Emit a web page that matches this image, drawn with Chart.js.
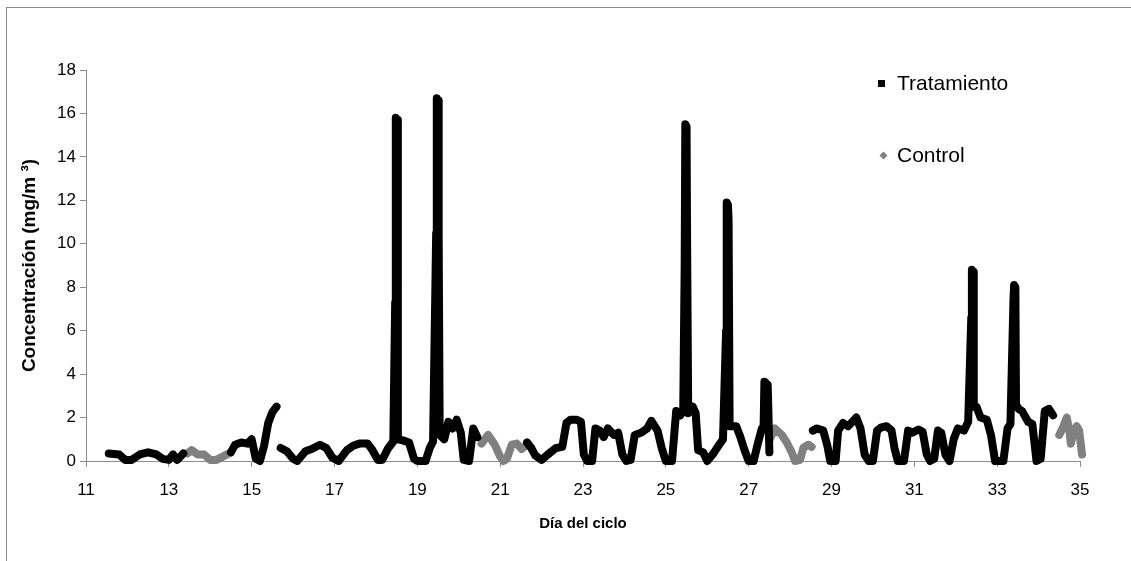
<!DOCTYPE html>
<html>
<head>
<meta charset="utf-8">
<script src="https://cdn.jsdelivr.net/npm/chart.js@4.4.1/dist/chart.umd.min.js"></script>
<style>
  html, body { margin: 0; padding: 0; background: #fff; overflow: hidden; }
  #marco { position: absolute; left: 6px; top: 7px; width: 1200px; height: 600px;
           border-top: 1px solid #8c8c8c; border-left: 1px solid #8c8c8c; }
  #c { position: absolute; left: 0; top: 0; }
</style>
</head>
<body>
<div id="marco"></div>
<canvas id="c" width="1131" height="561"></canvas>
<script>
// Concentración medida por día del ciclo (valores leídos del gráfico)
// null = corte de la serie (en esos tramos se registra el control)
const diasTratamiento = [
  11.55, 11.8, 11.95, 12.1, 12.3, 12.5, 12.7, 12.85, 13.0, 13.1, 13.2, 13.35, 13.9,
  14.5, 14.6, 14.75, 14.9, 15.0, 15.1, 15.2, 15.3, 15.4, 15.5, 15.6, 15.65,
  15.7, 15.85, 16.0, 16.1, 16.3, 16.45, 16.65, 16.8, 16.95, 17.1, 17.3, 17.45, 17.6, 17.8,
  17.9, 18.05, 18.15, 18.3, 18.42, 18.465, 18.48, 18.51, 18.53, 18.65, 18.8, 18.92, 19.0,
  19.2, 19.3, 19.38, 19.455, 19.47, 19.5, 19.515, 19.54, 19.65, 19.75, 19.85, 19.95, 20.05,
  20.12, 20.25, 20.35, 20.45, 21.0,
  21.65, 21.75, 21.85, 22.0, 22.15, 22.35, 22.5, 22.6, 22.7, 22.85, 22.95, 23.02, 23.1,
  23.22, 23.3, 23.4, 23.5, 23.6, 23.75, 23.85, 23.95, 24.05, 24.15, 24.25, 24.4, 24.55,
  24.65, 24.8, 24.9, 25.0, 25.15, 25.25, 25.35, 25.42, 25.455, 25.47, 25.5, 25.515, 25.54,
  25.65, 25.72, 25.78, 25.9, 26.0, 26.15, 26.27, 26.38, 26.455, 26.47, 26.5, 26.515, 26.54,
  26.7, 26.8, 26.9, 27.0, 27.12, 27.22, 27.32, 27.36, 27.38, 27.46, 27.5, 28.0,
  28.55, 28.65, 28.8, 28.9, 28.97, 29.1, 29.16, 29.28, 29.4, 29.5, 29.6, 29.7, 29.8, 29.9,
  30.0, 30.1, 30.2, 30.33, 30.45, 30.52, 30.6, 30.75, 30.85, 30.95, 31.1, 31.2, 31.3, 31.38,
  31.48, 31.57, 31.65, 31.75, 31.85, 31.95, 32.05, 32.2, 32.3, 32.375, 32.39, 32.42, 32.435,
  32.5, 32.6, 32.75, 32.85, 32.95, 33.15, 33.25, 33.32, 33.395, 33.41, 33.44, 33.455, 33.52,
  33.6, 33.75, 33.85, 33.95, 34.05, 34.15, 34.25, 34.35, 34.45
];
const valoresTratamiento = [
  0.35, 0.3, 0.05, 0.05, 0.3, 0.4, 0.3, 0.1, 0.05, 0.3, 0.05, 0.35, null,
  0.4, 0.75, 0.85, 0.8, 1.0, 0.1, 0.0, 0.7, 1.75, 2.25, 2.5, null,
  0.6, 0.45, 0.1, 0.0, 0.45, 0.55, 0.75, 0.6, 0.15, 0.0, 0.5, 0.7, 0.8, 0.8,
  0.55, 0.05, 0.05, 0.6, 0.9, 7.3, 15.8, 15.7, 1.0, 0.95, 0.85, 0.1, 0.0,
  0.0, 0.6, 0.9, 10.5, 16.7, 16.6, 10.3, 1.2, 1.0, 1.8, 1.5, 1.9, 1.3,
  0.05, 0.0, 1.5, 1.1, null,
  0.85, 0.6, 0.25, 0.05, 0.3, 0.6, 0.65, 1.75, 1.9, 1.9, 1.8, 0.3, 0.0,
  0.0, 1.5, 1.4, 1.1, 1.5, 1.2, 1.3, 0.3, 0.0, 0.05, 1.2, 1.3, 1.5,
  1.85, 1.4, 0.6, 0.0, 0.0, 2.3, 2.1, 2.3, 9.0, 15.5, 15.4, 9.6, 2.2,
  2.5, 2.2, 0.5, 0.4, 0.0, 0.35, 0.7, 1.0, 6.0, 11.9, 11.8, 11.1, 1.6,
  1.6, 1.1, 0.5, 0.0, 0.0, 0.8, 1.5, 1.5, 3.65, 3.5, 0.4, null,
  1.4, 1.5, 1.4, 0.7, 0.0, 0.0, 1.4, 1.75, 1.6, 1.8, 2.0, 1.5, 0.3, 0.0,
  0.0, 1.4, 1.55, 1.6, 1.4, 0.6, 0.0, 0.0, 1.4, 1.3, 1.45, 1.35, 0.3, 0.0,
  0.1, 1.4, 1.3, 0.3, 0.0, 1.0, 1.5, 1.4, 1.8, 6.6, 8.8, 8.7, 2.5,
  2.5, 2.0, 1.9, 1.2, 0.0, 0.0, 1.5, 1.7, 7.5, 8.1, 8.0, 2.6,
  2.4, 2.3, 1.8, 1.7, 0.0, 0.1, 2.3, 2.4, 2.1
];

const diasControl = [
  13.45, 13.55, 13.7, 13.85, 14.0, 14.15, 14.3, 14.45, 17.0,
  20.55, 20.71, 20.87, 21.0, 21.08, 21.16, 21.28, 21.4, 21.52, 21.64, 24.0,
  27.51, 27.63, 27.8, 27.92, 28.04, 28.12, 28.24, 28.32, 28.44, 28.52, 31.0,
  34.5, 34.6, 34.68, 34.74, 34.78, 34.85, 34.92, 34.98, 35.05
];
const valoresControl = [
  0.35, 0.5, 0.3, 0.3, 0.05, 0.05, 0.2, 0.35, null,
  0.8, 1.2, 0.75, 0.2, 0.0, 0.1, 0.75, 0.8, 0.55, 0.75, null,
  1.0, 1.5, 1.2, 0.85, 0.4, 0.0, 0.05, 0.6, 0.75, 0.65, null,
  1.2, 1.6, 2.0, 1.4, 0.8, 1.4, 1.6, 1.4, 0.3
];

const series = ['Tratamiento', 'Control'];
const ticksX = [11, 13, 15, 17, 19, 21, 23, 25, 27, 29, 31, 33, 35];
const ticksY = [0, 2, 4, 6, 8, 10, 12, 14, 16, 18];

const aPuntos = (xs, ys) => xs.map((x, i) => ({ x: x, y: ys[i] }));

// Leyenda dentro del área del gráfico, como en el original
const leyenda = {
  id: 'leyenda',
  afterDatasetsDraw(chart) {
    const ctx = chart.ctx;
    ctx.save();
    ctx.font = '21px "Liberation Sans", Arial, sans-serif';
    ctx.textBaseline = 'middle';
    ctx.fillStyle = '#000';
    // Tratamiento: cuadrado negro
    ctx.fillRect(878, 80, 7, 7);
    ctx.fillText(series[0], 897, 84);
    // Control: rombo gris
    ctx.fillStyle = '#808080';
    ctx.beginPath();
    ctx.moveTo(883.5, 151.5);
    ctx.lineTo(887.5, 155.5);
    ctx.lineTo(883.5, 159.5);
    ctx.lineTo(879.5, 155.5);
    ctx.closePath();
    ctx.fill();
    ctx.fillStyle = '#000';
    ctx.fillText(series[1], 897, 156);
    ctx.restore();
  }
};

const comunes = {
  showLine: true,
  borderWidth: 8,
  pointRadius: 4,
  pointBorderWidth: 0,
  pointHoverRadius: 0,
  tension: 0,
  spanGaps: false,
  clip: 8,
  borderJoinStyle: 'round',
  borderCapStyle: 'round'
};

new Chart(document.getElementById('c'), {
  type: 'scatter',
  data: {
    datasets: [
      Object.assign({
        label: series[0],
        data: aPuntos(diasTratamiento, valoresTratamiento),
        borderColor: '#000000',
        backgroundColor: '#000000',
        pointStyle: 'rect'
      }, comunes),
      Object.assign({
        label: series[1],
        data: aPuntos(diasControl, valoresControl),
        borderColor: '#808080',
        backgroundColor: '#808080',
        pointStyle: 'rectRot'
      }, comunes)
    ]
  },
  options: {
    responsive: false,
    animation: false,
    events: [],
    layout: { padding: { top: 70, right: 51, bottom: 0, left: 0 } },
    plugins: { legend: { display: false }, tooltip: { enabled: false } },
    scales: {
      x: {
        type: 'linear',
        min: ticksX[0],
        max: ticksX[ticksX.length - 1],
        afterFit: s => { s.height = 100; },
        afterBuildTicks: s => { s.ticks = ticksX.map(v => ({ value: v })); },
        border: { color: '#8c8c8c', width: 1 },
        grid: { drawOnChartArea: false, drawTicks: true, tickLength: 6, color: '#8c8c8c' },
        ticks: { color: '#000', padding: 13, font: { family: '"Liberation Sans", Arial', size: 17 } },
        title: {
          display: true,
          text: 'Día del ciclo',
          color: '#000',
          padding: { top: 0, bottom: 28 },
          font: { family: '"Liberation Sans", Arial', size: 15, weight: 'bold' }
        }
      },
      y: {
        min: ticksY[0],
        max: ticksY[ticksY.length - 1],
        afterFit: s => { s.width = 86; },
        afterBuildTicks: s => { s.ticks = ticksY.map(v => ({ value: v })); },
        border: { color: '#8c8c8c', width: 1 },
        grid: { drawOnChartArea: false, drawTicks: true, tickLength: 6, color: '#8c8c8c' },
        ticks: { color: '#000', padding: 4, font: { family: '"Liberation Sans", Arial', size: 17 } },
        title: {
          display: true,
          text: 'Concentración (mg/m ³)',
          color: '#000',
          padding: { top: 18, bottom: 0 },
          font: { family: '"Liberation Sans", Arial', size: 19, weight: 'bold' }
        }
      }
    }
  },
  plugins: [leyenda]
});
</script>
</body>
</html>
